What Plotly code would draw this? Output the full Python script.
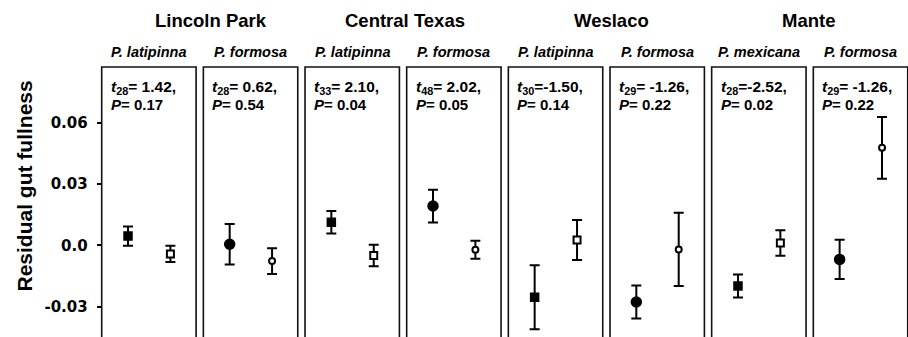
import plotly.graph_objects as go

# ---- data -------------------------------------------------------------
locations = ["Lincoln Park", "Central Texas", "Weslaco", "Mante"]
species = ["P. latipinna", "P. formosa", "P. latipinna", "P. formosa",
           "P. latipinna", "P. formosa", "P. mexicana", "P. formosa"]
marker_shape = ["square", "circle", "square", "circle",
                "square", "circle", "square", "circle"]

t_df = [28, 28, 33, 48, 30, 29, 28, 29]
t_text = [" 1.42", " 0.62", " 2.10", " 2.02", "-1.50", " -1.26", "-2.52", " -1.26"]
p_text = ["0.17", "0.54", "0.04", "0.05", "0.14", "0.22", "0.02", "0.22"]

filled_mean = [0.0045, 0.0005, 0.0113, 0.0192, -0.0254, -0.0277, -0.0199, -0.0069]
filled_err = [0.0047, 0.0099, 0.0055, 0.0080, 0.0157, 0.0081, 0.0056, 0.0096]
open_mean = [-0.0042, -0.0077, -0.0050, -0.0022, 0.0026, -0.0020, 0.0011, 0.0477]
open_err = [0.0040, 0.0063, 0.0053, 0.0044, 0.0098, 0.0179, 0.0062, 0.0151]

y_ticks = [0.06, 0.03, 0.0, -0.03]
y_ticklabels = ["0.06", "0.03", "0.0", "-0.03"]

# ---- layout geometry (pixels) -----------------------------------------
W, H = 908, 337
ML, MR, MT, MB = 100, 0, 67, 0
PW, PH = W - ML - MR, H - MT - MB
panel_left0, panel_pitch, panel_width = 101.7, 101.66, 94.4

BOLD = "Liberation Sans, Arial, sans-serif"
TICKFONT = "DejaVu Sans, Verdana, sans-serif"

fig = go.Figure()

shapes = []
annotations = []
layout_axes = {}

for i in range(8):
    ax = "" if i == 0 else str(i + 1)
    left = panel_left0 + panel_pitch * i
    right = min(left + panel_width, W)
    d0 = (left - ML) / PW
    d1 = min((right - ML) / PW, 1.0)
    layout_axes[f"xaxis{ax}"] = dict(
        domain=[d0, d1], range=[-0.621, 1.606], visible=False, fixedrange=True,
    )
    sym = marker_shape[i]
    filled_size = 8 if sym == "square" else 10
    open_size = 7 if sym == "square" else 6

    fig.add_trace(go.Scatter(
        x=[0], y=[filled_mean[i]], xaxis=f"x{ax}", yaxis="y", mode="markers",
        marker=dict(symbol=sym, size=filled_size, color="black",
                    line=dict(color="black", width=1.5)),
        error_y=dict(type="data", array=[filled_err[i]], color="black",
                     thickness=2, width=5),
        showlegend=False,
    ))
    fig.add_trace(go.Scatter(
        x=[1], y=[open_mean[i]], xaxis=f"x{ax}", yaxis="y", mode="markers",
        marker=dict(symbol=sym, size=open_size, color="white",
                    line=dict(color="black", width=2)),
        error_y=dict(type="data", array=[open_err[i]], color="black",
                     thickness=2, width=5),
        showlegend=False,
    ))

    # panel frame (open at the bottom edge of the page)
    shapes.append(dict(
        type="rect", xref=f"x{ax} domain", yref="paper",
        x0=0, x1=1, y0=-0.2, y1=1,
        line=dict(color="#111111", width=1.6), fillcolor="rgba(0,0,0,0)",
        layer="below",
    ))

    # species name above each panel
    annotations.append(dict(
        xref=f"x{ax} domain", yref="paper", x=0.5, y=(H - 51.5 - MB) / PH,
        xanchor="center", yanchor="middle", showarrow=False,
        text=f"<i>{species[i]}</i>",
        font=dict(family=BOLD, size=14.5, color="black", weight="bold"),
    ))

    # test statistic, two lines
    annotations.append(dict(
        xref=f"x{ax} domain", yref="paper", x=0, y=(H - 88 - MB) / PH,
        xanchor="left", yanchor="middle", xshift=7, showarrow=False,
        text=f"<i>t</i><sub>{t_df[i]}</sub>={t_text[i]},",
        font=dict(family=BOLD, size=15.5, color="black", weight="bold"),
    ))
    annotations.append(dict(
        xref=f"x{ax} domain", yref="paper", x=0, y=(H - 104.5 - MB) / PH,
        xanchor="left", yanchor="middle", xshift=7, showarrow=False,
        text=f"<i>P</i>= {p_text[i]}",
        font=dict(family=BOLD, size=15, color="black", weight="bold"),
    ))

# location headings over each pair of panels
location_centers_px = [211, 405, 611, 808]
for name, cx in zip(locations, location_centers_px):
    annotations.append(dict(
        xref="paper", yref="paper", x=(cx - ML) / PW, y=(H - 20 - MB) / PH,
        xanchor="center", yanchor="middle", showarrow=False, text=name,
        font=dict(family=BOLD, size=18.5, color="black", weight="bold"),
    ))

# y-axis title
annotations.append(dict(
    xref="paper", yref="paper", x=(24 - ML) / PW, y=(H - 186.5 - MB) / PH,
    xanchor="center", yanchor="middle", showarrow=False, textangle=-90,
    text="Residual gut fullness",
    font=dict(family=BOLD, size=21, color="black", weight="bold"),
))

fig.update_layout(
    width=W, height=H,
    margin=dict(l=ML, r=MR, t=MT, b=MB, pad=0),
    paper_bgcolor="white", plot_bgcolor="white",
    showlegend=False,
    yaxis=dict(
        range=[-0.04484, 0.08719], anchor="x", tickvals=y_ticks,
        ticktext=y_ticklabels, ticks="outside", ticklen=4, tickwidth=1.5,
        tickcolor="black", showgrid=False, zeroline=False, showline=False,
        ticklabelstandoff=6,
        tickfont=dict(family=TICKFONT, size=15, color="black", weight="bold"),
        fixedrange=True,
    ),
    shapes=shapes,
    annotations=annotations,
    **layout_axes,
)

fig.write_html("out.html")
